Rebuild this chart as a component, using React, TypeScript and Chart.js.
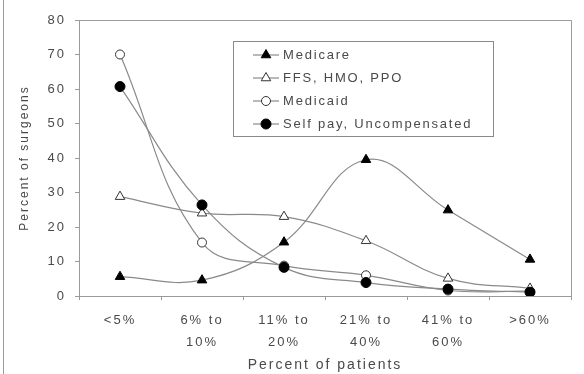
import React, { useEffect, useRef } from 'react';
import { Chart, registerables } from 'chart.js';

Chart.register(...registerables);

const categories: string[][] = [['<5%'], ['6% to', '10%'], ['11% to', '20%'], ['21% to', '40%'], ['41% to', '60%'], ['>60%']];
const seriesNames = ['Medicare', 'FFS, HMO, PPO', 'Medicaid', 'Self pay, Uncompensated'];
const medicare = [5.6, 4.6, 15.6, 39.5, 24.9, 10.6];
const ffs = [28.8, 24.0, 23.0, 16.0, 5.1, 2.2];
const medicaid = [70.0, 15.5, 8.8, 6.0, 1.6, 1.4];
const selfPay = [60.7, 26.4, 8.3, 3.9, 2.0, 1.1];
const yTickValues = [0, 10, 20, 30, 40, 50, 60, 70, 80];

const FONT = "'Liberation Sans', Arial, sans-serif";
const LINE = '#8a8a8a';
const AXIS = '#9a9a9a';
const TEXT = '#4a4a4a';

const markers = [
  { style: 'triangle', fill: '#000000', stroke: '#000000', r: 5.5 },
  { style: 'triangle', fill: '#ffffff', stroke: '#333333', r: 5.5 },
  { style: 'circle', fill: '#ffffff', stroke: '#333333', r: 4.5 },
  { style: 'circle', fill: '#000000', stroke: '#000000', r: 5 },
];

function drawMarker(ctx: CanvasRenderingContext2D, style: string, x: number, y: number, r: number, fill: string, stroke: string) {
  ctx.beginPath();
  if (style === 'circle') {
    ctx.arc(x, y, r, 0, Math.PI * 2);
  } else {
    let rad = 0;
    ctx.moveTo(x + Math.sin(rad) * r, y - Math.cos(rad) * r);
    rad += (2 * Math.PI) / 3;
    ctx.lineTo(x + Math.sin(rad) * r, y - Math.cos(rad) * r);
    rad += (2 * Math.PI) / 3;
    ctx.lineTo(x + Math.sin(rad) * r, y - Math.cos(rad) * r);
  }
  ctx.closePath();
  ctx.fillStyle = fill;
  ctx.fill();
  ctx.lineWidth = 1;
  ctx.strokeStyle = stroke;
  ctx.stroke();
}

const spacingPlugin = {
  id: 'spacing',
  beforeLayout(chart: any) {
    chart.ctx.letterSpacing = '2px';
  },
  beforeDraw(chart: any) {
    chart.ctx.letterSpacing = '2px';
  },
};

const framePlugin = {
  id: 'frame',
  afterDraw(chart: any) {
    const ctx: CanvasRenderingContext2D = chart.ctx;
    const a = chart.chartArea;
    ctx.save();
    ctx.strokeStyle = AXIS;
    ctx.lineWidth = 1;
    ctx.beginPath();
    ctx.moveTo(a.left, Math.round(a.top) + 0.5);
    ctx.lineTo(Math.round(a.right) + 0.5, Math.round(a.top) + 0.5);
    ctx.lineTo(Math.round(a.right) + 0.5, a.bottom);
    ctx.stroke();
    ctx.beginPath();
    ctx.moveTo(3.5, 0);
    ctx.lineTo(3.5, chart.height);
    ctx.stroke();

    // legend
    const lx = 233.5, ly = 41.5, lw = 260, lh = 95;
    ctx.strokeStyle = '#8a8a8a';
    ctx.strokeRect(lx, ly, lw, lh);
    const rows = [55, 78, 101, 124];
    ctx.font = `13px ${FONT}`;
    (ctx as any).letterSpacing = '1.8px';
    ctx.textBaseline = 'middle';
    ctx.textAlign = 'left';
    seriesNames.forEach((name, i) => {
      const y = rows[i];
      ctx.strokeStyle = LINE;
      ctx.lineWidth = 1.2;
      ctx.beginPath();
      ctx.moveTo(253, y);
      ctx.lineTo(279, y);
      ctx.stroke();
      const m = markers[i];
      drawMarker(ctx, m.style, 266, y, m.r, m.fill, m.stroke);
      ctx.fillStyle = TEXT;
      ctx.fillText(name, 283, y + 0.5);
    });
    ctx.restore();
  },
};

export default function App() {
  const ref = useRef<HTMLCanvasElement>(null);

  useEffect(() => {
    if (!ref.current) return;
    const series = [medicare, ffs, medicaid, selfPay];
    const orders = [1, 2, 3, 0];
    const chart = new Chart(ref.current, {
      type: 'line',
      data: {
        labels: categories,
        datasets: series.map((d, i) => ({
          label: seriesNames[i],
          data: d,
          borderColor: LINE,
          borderWidth: 1.2,
          tension: 0.4,
          fill: false,
          order: orders[i],
          pointStyle: markers[i].style as any,
          pointRadius: markers[i].r,
          pointBackgroundColor: markers[i].fill,
          pointBorderColor: markers[i].stroke,
          pointBorderWidth: 1,
        })),
      },
      options: {
        animation: false,
        responsive: false,
        devicePixelRatio: 1,
        events: [],
        layout: { padding: { top: 20, right: 13, left: 0, bottom: 0 } },
        plugins: {
          legend: { display: false },
          tooltip: { enabled: false },
        },
        scales: {
          x: {
            type: 'category',
            offset: true,
            grid: {
              offset: true,
              drawOnChartArea: false,
              drawTicks: true,
              tickLength: 4,
              color: AXIS,
            },
            border: { color: AXIS, width: 1 },
            ticks: {
              color: TEXT,
              font: { family: FONT, size: 13, lineHeight: 1.7 },
              padding: 9,
              maxRotation: 0,
              autoSkip: false,
            },
            title: {
              display: true,
              text: 'Percent of patients',
              color: TEXT,
              font: { family: FONT, size: 14 },
              padding: { top: 0, bottom: 0 },
            },
            afterFit(scale: any) {
              scale.height = 78;
            },
          },
          y: {
            min: 0,
            max: 80,
            afterBuildTicks(scale: any) {
              scale.ticks = yTickValues.map((v) => ({ value: v }));
            },
            grid: {
              drawOnChartArea: false,
              drawTicks: true,
              tickLength: 4,
              color: AXIS,
            },
            border: { color: AXIS, width: 1 },
            ticks: {
              color: TEXT,
              font: { family: FONT, size: 13 },
              padding: 9,
            },
            title: {
              display: true,
              text: 'Percent of surgeons',
              color: TEXT,
              font: { family: FONT, size: 12 },
              padding: { top: 17, bottom: 0 },
            },
            afterFit(scale: any) {
              scale.width = 79;
            },
          },
        },
      },
      plugins: [spacingPlugin, framePlugin],
    });
    return () => chart.destroy();
  }, []);

  return (
    <div style={{ position: 'absolute', left: 0, top: 0, width: 584, height: 374, background: '#ffffff' }}>
      <canvas ref={ref} width={584} height={374} style={{ display: 'block', width: 584, height: 374 }} />
    </div>
  );
}
